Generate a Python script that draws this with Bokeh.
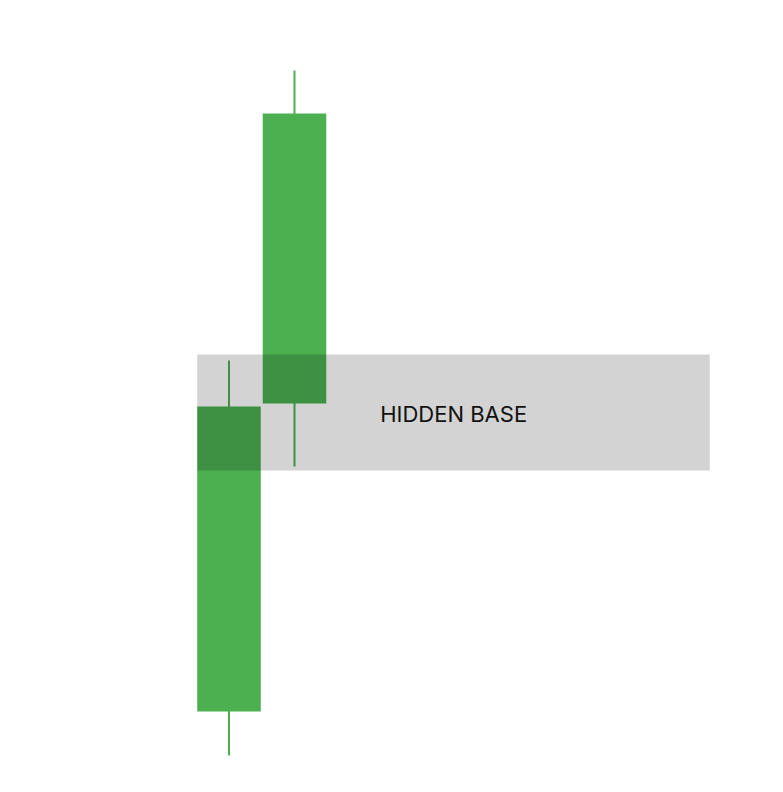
from bokeh.plotting import figure
from bokeh.models import Range1d, ColumnDataSource
from bokeh.core.properties import value
from bokeh.embed import file_html
from bokeh.resources import INLINE

# Data
idx = [0, 1]
opens = [94.05, 109.45]
closes = [109.3, 123.95]
highs = [111.6, 126.1]
lows = [91.85, 106.3]

band_bottom = 106.1
band_top = 111.9
band_left = -0.485
band_right = 7.34
band_label = "HIDDEN BASE"
label_x = 3.43
label_y = 108.95

W, H = 783, 792
x_per_px = 1 / 65.5
x0 = -228.5 * x_per_px
x1 = x0 + W * x_per_px
y0 = 90.0
y1 = y0 + H * 0.05

p = figure(width=W, height=H, output_backend="svg", toolbar_location=None,
           x_range=Range1d(x0, x1), y_range=Range1d(y0, y1),
           min_border=0, min_border_left=0, min_border_right=0,
           min_border_top=0, min_border_bottom=0)
p.axis.visible = False
p.grid.visible = False
p.outline_line_color = None
p.background_fill_color = "white"
p.border_fill_color = "white"

src = ColumnDataSource(dict(x=idx, o=opens, c=closes, h=highs, l=lows))
green = "#4caf50"
p.segment(x0="x", y0="h", x1="x", y1="l", source=src, line_color=green, line_width=2)
p.vbar(x="x", width=0.97, top="c", bottom="o", source=src,
       fill_color=green, line_color=None)

p.quad(left=[band_left], right=[band_right], bottom=[band_bottom], top=[band_top],
       fill_color="black", fill_alpha=0.173, line_color=None)

p.text(x=[label_x], y=[label_y], text=[band_label], text_align="center",
       text_baseline="middle", text_font=value("Inter"), text_font_size="22px",
       text_color="#111111")

open("out.html", "w").write(file_html(p, INLINE))
